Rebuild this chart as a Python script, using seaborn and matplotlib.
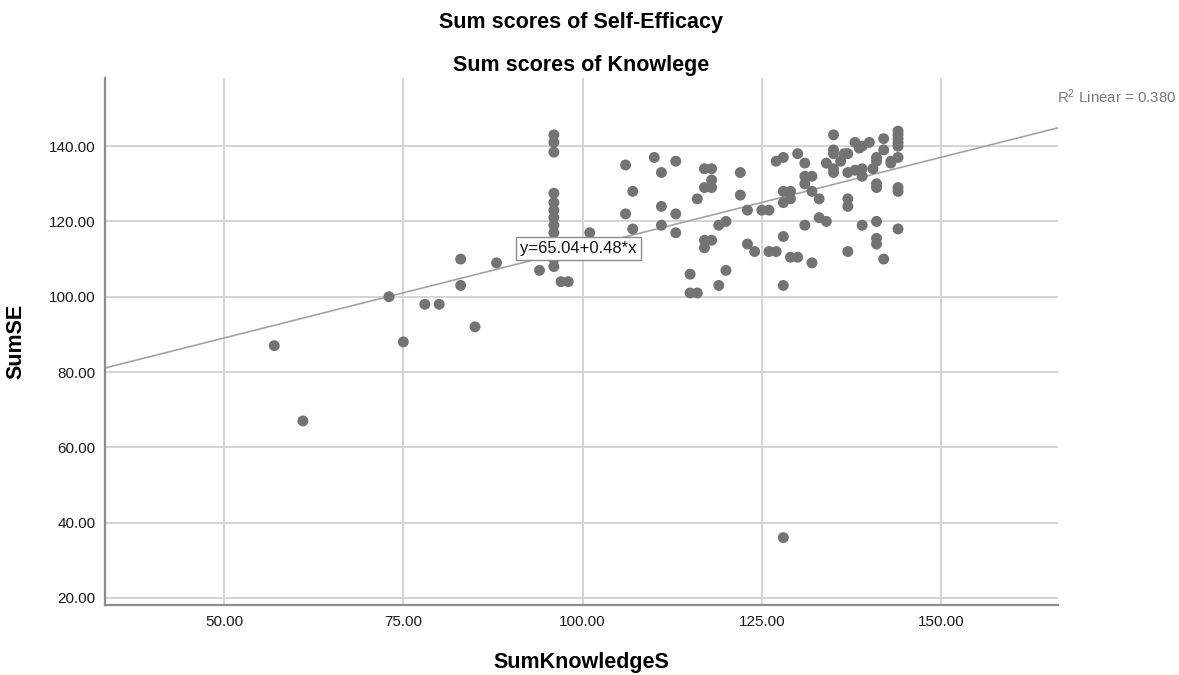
import matplotlib
matplotlib.use("Agg")
import matplotlib.pyplot as plt
import seaborn as sns
import pandas as pd

# knowledge sum score (x) and self-efficacy sum score (y)
sum_knowledge = [
    57, 61, 73, 75, 78, 80, 83, 83, 85, 88, 94,
    96, 96, 96, 96, 96, 96, 96, 96, 96, 96, 96, 96, 96,
    97, 98, 101,
    106, 107, 106, 107, 110, 111, 113, 111, 113, 111, 113, 115, 115, 116,
    119, 120, 117, 118, 118, 117, 118, 116, 122, 122, 123, 119, 120,
    117, 118, 117, 123, 124, 125, 126, 126, 127,
    127, 128, 130, 128, 129, 129, 128, 128, 129, 130, 128, 128,
    131, 132, 131, 132, 131, 131, 133, 132, 133, 134,
    134, 135, 135, 135, 135, 135, 136, 136.5,
    137, 138, 138.6, 139, 140, 137, 138, 139, 139, 137, 137, 137, 139,
    141, 141, 140.5, 141, 141, 141, 141, 141, 142, 142, 142, 143, 143,
    144, 144, 144, 144, 144, 144, 144, 144, 144,
]
sum_se = [
    87, 67, 100, 88, 98, 98, 110, 103, 92, 109, 107,
    143, 141, 138.4, 127.5, 125, 123, 121, 119, 117, 115, 112, 108, 110,
    104, 104, 117,
    135, 128, 122, 118, 137, 133, 136, 124, 122, 119, 117, 106, 101, 101,
    103, 107, 134, 134, 131, 129, 129, 126, 133, 127, 123, 119, 120,
    115, 115, 113, 114, 112, 123, 123, 112, 112,
    136, 137, 138, 128, 128, 126, 125, 116, 110.5, 110.5, 103, 36,
    119, 109, 132, 132, 130, 135.5, 126, 128, 121, 120,
    135.5, 134, 133, 143, 139, 138, 136, 138,
    138, 141, 139.5, 140, 141, 133, 133.6, 134, 132, 126, 124, 112, 119,
    137, 136, 134, 130, 129, 120, 115.5, 114, 142, 139, 110, 136, 135.5,
    144, 143, 142, 141, 140, 137, 129, 128, 118,
]
fit_intercept = 65.04
fit_slope = 0.48
r2_linear = 0.380

x_ticks = [50, 75, 100, 125, 150]
y_ticks = [20, 40, 60, 80, 100, 120, 140]

df = pd.DataFrame({"SumKnowledgeS": sum_knowledge, "SumSE": sum_se})

sns.set_style("whitegrid")
plt.rcParams["font.family"] = ["Liberation Sans", "DejaVu Sans"]
plt.rcParams["mathtext.default"] = "regular"

fig = plt.figure(figsize=(11.79, 6.75), dpi=100)
ax = fig.add_axes([0.0891, 0.1037, 0.8082, 0.7807])

# fit line first so the dots sit on top of it
ax.axline((0, fit_intercept), slope=fit_slope, color="#a3a3a3", lw=1.2, zorder=2)
sns.scatterplot(data=df, x="SumKnowledgeS", y="SumSE", ax=ax, color="#737373",
                s=62, edgecolor="none", linewidth=0, zorder=3)

ax.set_xlim(33.4, 166.3)
ax.set_ylim(18.1, 158.1)
ax.set_xticks(x_ticks)
ax.set_yticks(y_ticks)
ax.set_xticklabels([f"{t:.2f}" for t in x_ticks])
ax.set_yticklabels([f"{t:.2f}" for t in y_ticks])
ax.tick_params(axis="both", length=0, labelsize=11, colors="#1a1a1a", pad=7)
ax.grid(True, color="#d4d4d4", lw=1.4)
ax.set_axisbelow(True)

for side in ["top", "right"]:
    ax.spines[side].set_visible(False)
for side in ["left", "bottom"]:
    ax.spines[side].set_color("#8c8c8c")
    ax.spines[side].set_linewidth(1.6)

ax.set_xlabel("SumKnowledgeS", fontsize=15.5, fontweight="bold", labelpad=17, color="black")
ax.set_ylabel("SumSE", fontsize=15.5, fontweight="bold", labelpad=16, color="black")

ax.text(99.4, 112.8, f"y={fit_intercept:.2f}+{fit_slope:.2f}*x", fontsize=12,
        ha="center", va="center", color="#111111", zorder=4,
        bbox=dict(boxstyle="square,pad=0.25", fc="white", ec="#8c8c8c", lw=1))

fig.text(0.4928, 0.967, "Sum scores of Self-Efficacy", ha="center", va="center",
         fontsize=15.5, fontweight="bold", color="black")
fig.text(0.4928, 0.903, "Sum scores of Knowlege", ha="center", va="center",
         fontsize=15.5, fontweight="bold", color="black")
fig.text(0.998, 0.856, f"R$^{{2}}$ Linear = {r2_linear:.3f}", ha="right", va="center",
         fontsize=10.8, color="#7a7a7a")

fig.savefig("out.png", dpi=100)
